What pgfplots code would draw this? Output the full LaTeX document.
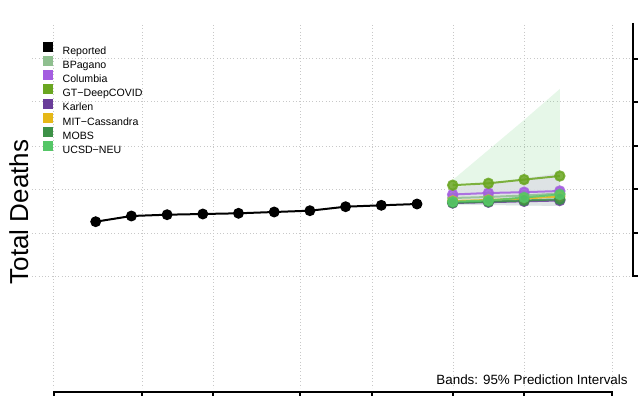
\documentclass[border=0pt]{standalone}
\usepackage{pgfplots}
\pgfplotsset{compat=1.18}
\usepackage{fontspec}
\setmainfont{Liberation Sans}
\definecolor{cBP}{RGB}{143,191,143}
\definecolor{cCol}{RGB}{164,93,224}
\definecolor{cGT}{RGB}{106,166,33}
\definecolor{cKar}{RGB}{106,61,154}
\definecolor{cMIT}{RGB}{230,184,23}
\definecolor{cMOBS}{RGB}{61,145,71}
\definecolor{cUCSD}{RGB}{85,198,103}
\definecolor{gridc}{RGB}{200,200,200}
\definecolor{bandg}{RGB}{222,226,230}
\begin{document}
\begin{tikzpicture}
\begin{axis}[
  at={(0,0)}, anchor=south west,
  scale only axis, width=300pt, height=181.5pt,
  xmin=32, xmax=632, ymin=25, ymax=388, y dir=reverse,
  clip=false,
  axis line style={draw=none},
  tick style={draw=none},
  major tick length=0pt,
  xtick={54,142,213,300,372,453,524,612},
  ytick={59,102,146,189,233,276},
  xticklabels={}, yticklabels={},
  grid=major,
  grid style={gridc, line width=0.5pt, dash pattern=on 0.5pt off 1.15pt},
  legend style={at={(axis cs:42.7,41.8)}, anchor=north west, draw=none, fill=none,
    inner sep=0pt, outer sep=0pt, row sep=-0.3pt,
    font=\fontsize{5.3}{6}\selectfont,
    nodes={inner sep=0pt, outer sep=0pt, text height=4.5pt, text depth=1.3pt},
    /tikz/every odd column/.append style={column sep=5.1pt}},
  legend cell align=left,
  legend image code/.code={\fill (0pt,-0.2pt) rectangle (4.5pt,4.3pt);},
]
% bands
\addplot[draw=none, fill=cUCSD, fill opacity=0.15, forget plot] coordinates {
 (452.7,180) (488.4,150) (524.1,120) (559.8,89)
 (559.8,206) (524.1,205.5) (488.4,205) (452.7,205) } -- cycle;
\addplot[draw=none, fill=bandg, fill opacity=0.9, forget plot] coordinates {
 (452.7,187.5) (488.4,183.5) (524.1,178.5) (559.8,173)
 (559.8,206) (524.1,205.5) (488.4,205) (452.7,204.5) } -- cycle;
% reported
\addplot[black, line width=1pt, mark=*, mark size=2.2pt, forget plot] coordinates {
 (95.7,221.7) (131.4,216) (167.1,214.7) (202.8,214) (238.5,213.3)
 (274.2,212) (309.9,210.7) (345.6,206.7) (381.3,205.3) (417.0,204) };
% forecasts
\addplot[cBP, line width=1pt, mark=*, mark size=2.35pt, opacity=0.85, forget plot] coordinates {
 (452.7,198) (488.4,197) (524.1,195.5) (559.8,193.5) };
\addplot[cCol, line width=1pt, mark=*, mark size=2.35pt, opacity=0.85, forget plot] coordinates {
 (452.7,194.5) (488.4,193) (524.1,192.2) (559.8,191) };
\addplot[cGT, line width=1pt, mark=*, mark size=2.35pt, opacity=0.85, forget plot] coordinates {
 (452.7,185.2) (488.4,183.3) (524.1,179.6) (559.8,176) };
\addplot[cKar, line width=1pt, mark=*, mark size=2.35pt, opacity=0.85, forget plot] coordinates {
 (452.7,203) (488.4,202.2) (524.1,201.3) (559.8,200.5) };
\addplot[cMIT, line width=1pt, mark=*, mark size=2.35pt, opacity=0.85, forget plot] coordinates {
 (452.7,201) (488.4,200) (524.1,198.5) (559.8,196.5) };
\addplot[cMOBS, line width=1pt, mark=*, mark size=2.35pt, opacity=0.85, forget plot] coordinates {
 (452.7,202.7) (488.4,201.7) (524.1,200.5) (559.8,199.3) };
\addplot[cUCSD, line width=1pt, mark=*, mark size=2.35pt, opacity=0.85, forget plot] coordinates {
 (452.7,201.7) (488.4,200.5) (524.1,197.5) (559.8,194.5) };
% legend
\addlegendimage{black}
\addlegendentry{Reported}
\addlegendimage{cBP}
\addlegendentry{BPagano}
\addlegendimage{cCol}
\addlegendentry{Columbia}
\addlegendimage{cGT}
\addlegendentry{GT−DeepCOVID}
\addlegendimage{cKar}
\addlegendentry{Karlen}
\addlegendimage{cMIT}
\addlegendentry{MIT−Cassandra}
\addlegendimage{cMOBS}
\addlegendentry{MOBS}
\addlegendimage{cUCSD}
\addlegendentry{UCSD−NEU}
% axes fragments
\draw[black, line width=0.75pt] (axis cs:54,400) -- (axis cs:54,392) -- (axis cs:612,392) -- (axis cs:612,400)
  (axis cs:142,392) -- (axis cs:142,400) (axis cs:213,392) -- (axis cs:213,400)
  (axis cs:300,392) -- (axis cs:300,400) (axis cs:372,392) -- (axis cs:372,400)
  (axis cs:453,392) -- (axis cs:453,400) (axis cs:524,392) -- (axis cs:524,400);
\draw[black, line width=0.75pt] (axis cs:633,23) -- (axis cs:633,276) -- (axis cs:642,276)
  (axis cs:633,59) -- (axis cs:642,59) (axis cs:633,102) -- (axis cs:642,102)
  (axis cs:633,146) -- (axis cs:642,146) (axis cs:633,189) -- (axis cs:642,189)
  (axis cs:633,233) -- (axis cs:642,233);
\node[anchor=base east, inner sep=0pt, font=\fontsize{6.7}{8}\selectfont] at (axis cs:628,384) {Bands: 95\% Prediction Intervals};
\node[rotate=90, anchor=base, inner sep=0pt, font=\fontsize{13}{15}\selectfont] at (axis cs:28,212) {Total Deaths};
\end{axis}
\pgfresetboundingbox
\path[use as bounding box] (-16pt,-4pt) rectangle (303pt,194pt);
\end{tikzpicture}
\end{document}
